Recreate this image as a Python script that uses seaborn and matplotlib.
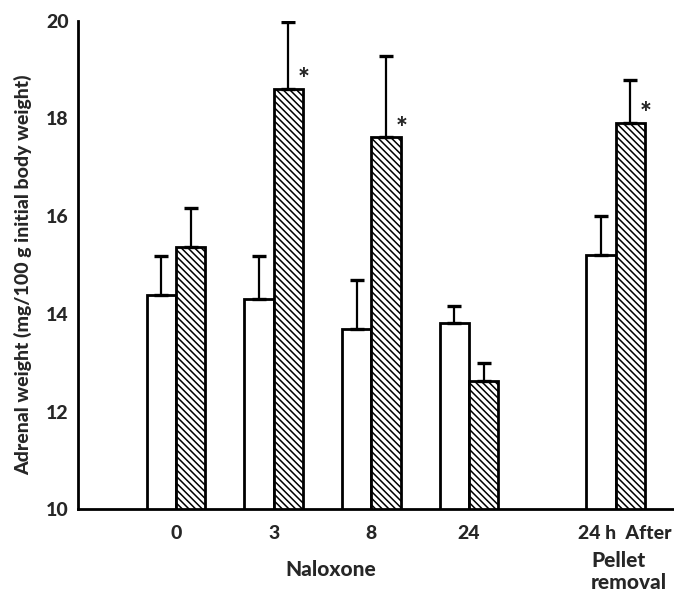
import numpy as np
import pandas as pd
import matplotlib
matplotlib.use("Agg")
import matplotlib.pyplot as plt
import seaborn as sns
from matplotlib import transforms

# ---- data ----
group_labels = ["0", "3", "8", "24", "24 h  After"]
group_pos = [0, 1, 2, 3, 4.5]
open_means = [14.39, 14.30, 13.70, 13.81, 15.20]
open_upper = [15.18, 15.18, 14.69, 14.16, 16.00]
hatched_means = [15.37, 18.60, 17.61, 12.63, 17.90]
hatched_upper = [16.17, 19.98, 19.28, 13.00, 18.79]
hatched_signif = [False, True, True, False, True]
y_ticks = [10, 12, 14, 16, 18, 20]
series_names = ["Open", "Hatched"]

W = "black"  # font weight

sns.set_style("white")
plt.rcParams["font.family"] = ["Lato", "DejaVu Sans"]
plt.rcParams["font.weight"] = W
plt.rcParams["hatch.linewidth"] = 1.1
plt.rcParams["hatch.color"] = "black"

df = pd.DataFrame({
    "pos": group_pos * 2,
    "value": open_means + hatched_means,
    "series": [series_names[0]] * len(group_pos) + [series_names[1]] * len(group_pos),
})
upper = {series_names[0]: open_upper, series_names[1]: hatched_upper}

fig = plt.figure(figsize=(6.74, 6.01), dpi=100)
ax = fig.add_axes([0.1162, 0.1526, 0.8838, 0.813])

sns.barplot(data=df, x="pos", y="value", hue="series", native_scale=True,
            width=0.6, dodge=True, errorbar=None,
            palette={series_names[0]: "white", series_names[1]: "white"},
            edgecolor="black", linewidth=2.0, legend=False, ax=ax)

for p in ax.patches:
    cx = p.get_x() + p.get_width() / 2
    gi = int(np.argmin([abs(cx - g) for g in group_pos]))
    s = series_names[1] if cx > group_pos[gi] else series_names[0]
    top = p.get_height()
    if s == series_names[1]:
        p.set_hatch("\\\\\\\\\\")
    ax.errorbar(cx, top, yerr=[[0], [upper[s][gi] - top]], fmt="none",
                ecolor="black", elinewidth=1.6, capsize=5, capthick=2.4, zorder=3)
    if s == series_names[1] and hatched_signif[gi]:
        ax.annotate("*", xy=(p.get_x() + p.get_width(), top), xytext=(0.5, -3),
                    textcoords="offset points", ha="center", va="bottom",
                    fontsize=20, fontweight=W)

ax.set_ylim(10, 20)
ax.set_xlim(-1.0, 5.097)
ax.set_yticks(y_ticks)
ax.set_yticklabels([str(t) for t in y_ticks])
ax.set_xticks(group_pos)
# last group's label is drawn slightly right of its tick, as in the reference
ax.set_xticklabels(group_labels[:-1] + [""])

ax.tick_params(axis="y", direction="in", length=9.5, width=1.6, pad=7, labelsize=14)
ax.tick_params(axis="x", length=0, pad=11, labelsize=14)
for lab in ax.get_xticklabels() + ax.get_yticklabels():
    lab.set_fontweight(W)
blend = transforms.blended_transform_factory(ax.transData, ax.transAxes)
ax.annotate(group_labels[-1], xy=(group_pos[-1], 0), xycoords=blend,
            xytext=(6.2, -11), textcoords="offset points",
            ha="center", va="top", fontsize=14, fontweight=W)

ax.set_xlabel("")
ax.set_ylabel("Adrenal weight (mg/100 g initial body weight)", fontsize=14,
              fontweight=W, va="center")
ax.yaxis.set_label_coords(-0.093, 0.48)

for side in ["top", "right"]:
    ax.spines[side].set_visible(False)
for side in ["left", "bottom"]:
    ax.spines[side].set_linewidth(2.0)
    ax.spines[side].set_color("black")

ax.text(1.58, -0.124, "Naloxone", transform=blend,
        ha="center", va="center", fontsize=15, fontweight=W)
ax.text(4.25, -0.085, "Pellet\nremoval", transform=blend,
        ha="left", va="top", fontsize=15, fontweight=W, linespacing=1.2)

fig.savefig("out.png", dpi=100)
